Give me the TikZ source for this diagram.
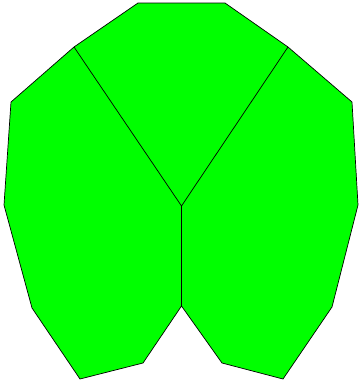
\documentclass[tikz,border=0pt]{standalone}
\usepackage{tikz}
\definecolor{leafgreen}{RGB}{0,255,0}

\begin{document}
\begin{tikzpicture}[
  x=1pt, y=-1pt,
  %% Face style
  face/.style={fill=leafgreen, draw=black, line width=0.7pt, line join=miter},
  seam/.style={draw=black, line width=0.7pt},
]
\useasboundingbox (0,0) rectangle (359,383);

%% Outline corners
\coordinate (t1) at (138,3);
\coordinate (t2) at (225,3);
\coordinate (r1) at (288,47);
\coordinate (r2) at (352,102);
\coordinate (r3) at (358,205);
\coordinate (r4) at (332,307);
\coordinate (r5) at (283,379);
\coordinate (r6) at (222,363);
\coordinate (nb) at (181.5,306);
\coordinate (l6) at (143,363);
\coordinate (l5) at (80,379);
\coordinate (l4) at (32,308);
\coordinate (l3) at (4,205);
\coordinate (l2) at (11,102);
\coordinate (l1) at (74,47);
%% Inner meeting point
\coordinate (mid) at (181.5,206);

%% Filled outline
\path[face] (t1) -- (t2) -- (r1) -- (r2) -- (r3) -- (r4) -- (r5) -- (r6)
  -- (nb) -- (l6) -- (l5) -- (l4) -- (l3) -- (l2) -- (l1) -- cycle;

%% Inner seams
\draw[seam] (l1) -- (mid) -- (r1);
\draw[seam] (mid) -- (nb);

\end{tikzpicture}
\end{document}
